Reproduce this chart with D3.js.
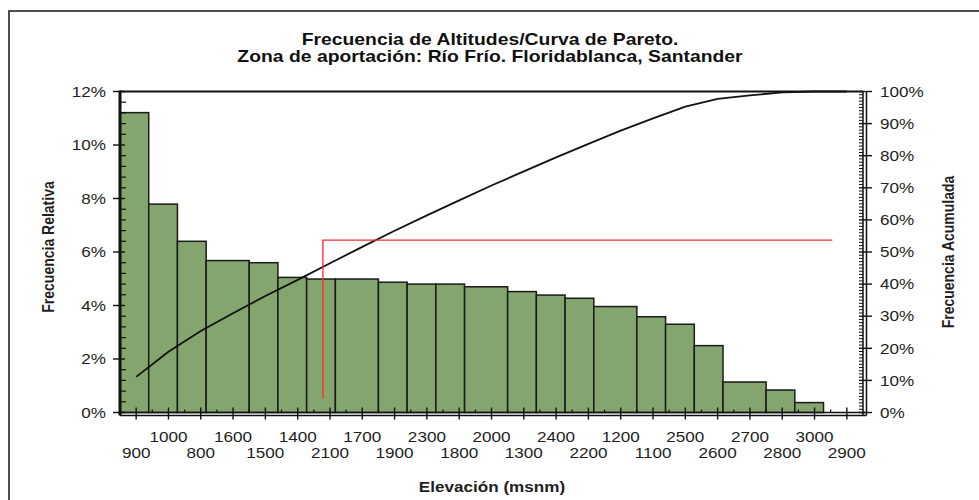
<!DOCTYPE html>
<html>
<head>
<meta charset="utf-8">
<script src="https://cdn.jsdelivr.net/npm/d3@7/dist/d3.min.js"></script>
<style>
  html, body { margin: 0; padding: 0; background: #fff; }
  svg { display: block; font-family: "Liberation Sans", Arial, sans-serif; }
</style>
</head>
<body>
<svg id="chart" width="979" height="500"></svg>
<script>
// ---------------- data ----------------
const titleLines = ["Frecuencia de Altitudes/Curva de Pareto.",
                    "Zona de aportación: Río Frío. Floridablanca, Santander"];
const xTitle = "Elevación (msnm)";
const yLeftTitle = "Frecuencia Relativa";
const yRightTitle = "Frecuencia Acumulada";

// elevation classes, sorted by frequency (Pareto order)
const categories = ["900","1000","800","1600","1500","1400","2100","1700","1900","2300","1800","2000",
                    "1300","2400","2200","1200","1100","2500","2600","2700","2800","3000","2900"];
// relative frequency (%)
const relFreq = [11.21,7.79,6.40,5.68,5.60,5.05,4.99,4.99,4.87,4.80,4.80,4.70,
                 4.52,4.39,4.27,3.96,3.58,3.30,2.50,1.14,0.84,0.37,0];
// cumulative frequency (%)
const cumFreq = [11.1,18.9,25.4,30.9,36.3,41.3,46.5,51.6,56.6,61.4,66.1,70.7,
                 75.1,79.5,83.7,87.8,91.6,95.3,97.7,98.8,99.7,100,100];
// red reference line: position in category units, cumulative %
const refPos = [5.78, 5.78, 21.55];
const refPct = [4.4, 53.7, 53.7];

const leftTicks = [0,2,4,6,8,10,12];
const rightTicks = [0,10,20,30,40,50,60,70,80,90,100];

// ---------------- layout ----------------
const W = 979, H = 500;
const M = {left:120, right:863, top:91.5, bottom:412.5};
const SX = 1.14; // horizontal stretch of the source picture

const svg = d3.select("#chart");

const x = d3.scaleBand().domain(categories).range([M.left, M.right]).paddingInner(0).paddingOuter(0);
const xPos = d3.scaleLinear().domain([-0.5, categories.length - 0.5]).range([M.left, M.right]);
const yL = d3.scaleLinear().domain([0, 12]).range([M.bottom, M.top]);
const yR = d3.scaleLinear().domain([0, 100]).range([M.bottom, M.top]);

function stretchedText(g, x0, y0, txt, opts) {
  const sx = opts.sx || SX;
  const t = g.append("text")
    .attr("transform", `translate(${x0},${y0}) scale(${sx},1)` + (opts.rotate ? ` rotate(${opts.rotate})` : ""))
    .attr("text-anchor", opts.anchor || "middle")
    .attr("font-size", opts.size || 15)
    .attr("font-weight", opts.weight || "normal")
    .attr("fill", opts.fill || "#1e1e1e")
    .text(txt);
  if (opts.dy) t.attr("dy", opts.dy);
  return t;
}

// outer frame
svg.append("rect").attr("x", 9).attr("y", 11).attr("width", 1000).attr("height", 600)
  .attr("fill", "none").attr("stroke", "#222").attr("stroke-width", 1.6);

// title
stretchedText(svg, 490, 44.5, titleLines[0], {size:16, sx:1.21, weight:"bold", fill:"#111"});
stretchedText(svg, 490, 61.5, titleLines[1], {size:16, sx:1.21, weight:"bold", fill:"#111"});

// bars: the source renders bar edges on a coarse grid (4 bars per 9 grid units)
const grid = 2.25;
const edge = i => M.left + Math.floor(i * grid) * x.step() / grid;
svg.append("g").selectAll("rect")
  .data(categories.map((c, i) => ({c, i, v: relFreq[i]})).filter(d => d.v > 0))
  .join("rect")
  .attr("x", d => edge(d.i))
  .attr("width", d => edge(d.i + 1) - edge(d.i))
  .attr("y", d => yL(d.v))
  .attr("height", d => yL(0) - yL(d.v))
  .attr("fill", "#84a66e")
  .attr("stroke", "#1a1a1a")
  .attr("stroke-width", 1.5);

// cumulative curve
const line = d3.line()
  .x((d, i) => x(categories[i]) + x.bandwidth() / 2)
  .y(d => yR(d));
svg.append("path").datum(cumFreq).attr("d", line)
  .attr("fill", "none").attr("stroke", "#111").attr("stroke-width", 1.8);

// red reference line
const refLine = d3.line().x((d, i) => xPos(refPos[i])).y(d => yR(d));
svg.append("path").datum(refPct).attr("d", refLine)
  .attr("fill", "none").attr("stroke", "#ff2a2a").attr("stroke-width", 1.3);

// ---------------- axes ----------------
const ax = svg.append("g").attr("stroke", "#111");
// top border
ax.append("line").attr("x1", M.left).attr("x2", M.right).attr("y1", M.top).attr("y2", M.top).attr("stroke-width", 1.8);
// left axis (thick)
ax.append("line").attr("x1", M.left).attr("x2", M.left).attr("y1", M.top - 1).attr("y2", M.bottom + 3).attr("stroke-width", 3);
// right axis (double)
ax.append("line").attr("x1", M.right).attr("x2", M.right).attr("y1", M.top).attr("y2", M.bottom + 3).attr("stroke-width", 1.5);
ax.append("line").attr("x1", M.right + 3.5).attr("x2", M.right + 3.5).attr("y1", M.top).attr("y2", M.bottom + 3).attr("stroke-width", 1.5);
// bottom axis (double)
ax.append("line").attr("x1", M.left).attr("x2", M.right + 3.5).attr("y1", M.bottom).attr("y2", M.bottom).attr("stroke-width", 1.5);
ax.append("line").attr("x1", M.left).attr("x2", M.right + 3.5).attr("y1", M.bottom + 3).attr("y2", M.bottom + 3).attr("stroke-width", 1.5);

// left ticks
const leftMinor = d3.range(0, 12.001, 0.4).filter(v => Math.abs(v / 2 - Math.round(v / 2)) > 1e-6);
ax.selectAll(".lmin").data(leftMinor).join("line")
  .attr("x1", M.left).attr("x2", M.left + 6).attr("y1", d => yL(d)).attr("y2", d => yL(d)).attr("stroke-width", 1.2);
ax.selectAll(".lmaj").data(leftTicks).join("line")
  .attr("x1", M.left - 7).attr("x2", M.left + 5).attr("y1", d => yL(d)).attr("y2", d => yL(d)).attr("stroke-width", 1.4);
leftTicks.forEach(v => stretchedText(svg, 106, yL(v) + 5.2, v + "%", {anchor:"end"}));

// right ticks
const rightMinor = d3.range(0, 101, 1).filter(v => v % 10 !== 0);
ax.selectAll(".rmin").data(rightMinor).join("line")
  .attr("x1", M.right - 4).attr("x2", M.right).attr("y1", d => yR(d)).attr("y2", d => yR(d)).attr("stroke-width", 1);
ax.selectAll(".rmaj").data(rightTicks).join("line")
  .attr("x1", M.right - 4).attr("x2", M.right + 9).attr("y1", d => yR(d)).attr("y2", d => yR(d)).attr("stroke-width", 1.4);
rightTicks.forEach(v => stretchedText(svg, 880, yR(v) + 5.2, v + "%", {anchor:"start"}));

// bottom ticks: major at category centres, minor at category boundaries
ax.selectAll(".bmaj").data(categories).join("line")
  .attr("x1", d => x(d) + x.bandwidth() / 2).attr("x2", d => x(d) + x.bandwidth() / 2)
  .attr("y1", M.bottom - 5).attr("y2", M.bottom + 7).attr("stroke-width", 1.4);
ax.selectAll(".bmin").data(categories.slice(1)).join("line")
  .attr("x1", d => x(d)).attr("x2", d => x(d))
  .attr("y1", M.bottom - 3).attr("y2", M.bottom).attr("stroke-width", 1.2);
categories.forEach((c, i) => {
  const cx = x(c) + x.bandwidth() / 2;
  stretchedText(svg, cx, i % 2 ? 441.5 : 458, c, {});
});

// axis titles
stretchedText(svg, 492, 491.5, xTitle, {weight:"bold", size:15});
stretchedText(svg, 48, 247, yLeftTitle, {rotate:-90, dy:"0.35em", weight:"bold", size:14});
stretchedText(svg, 948, 252, yRightTitle, {rotate:-90, dy:"0.35em", weight:"bold", size:14});
</script>
</body>
</html>
